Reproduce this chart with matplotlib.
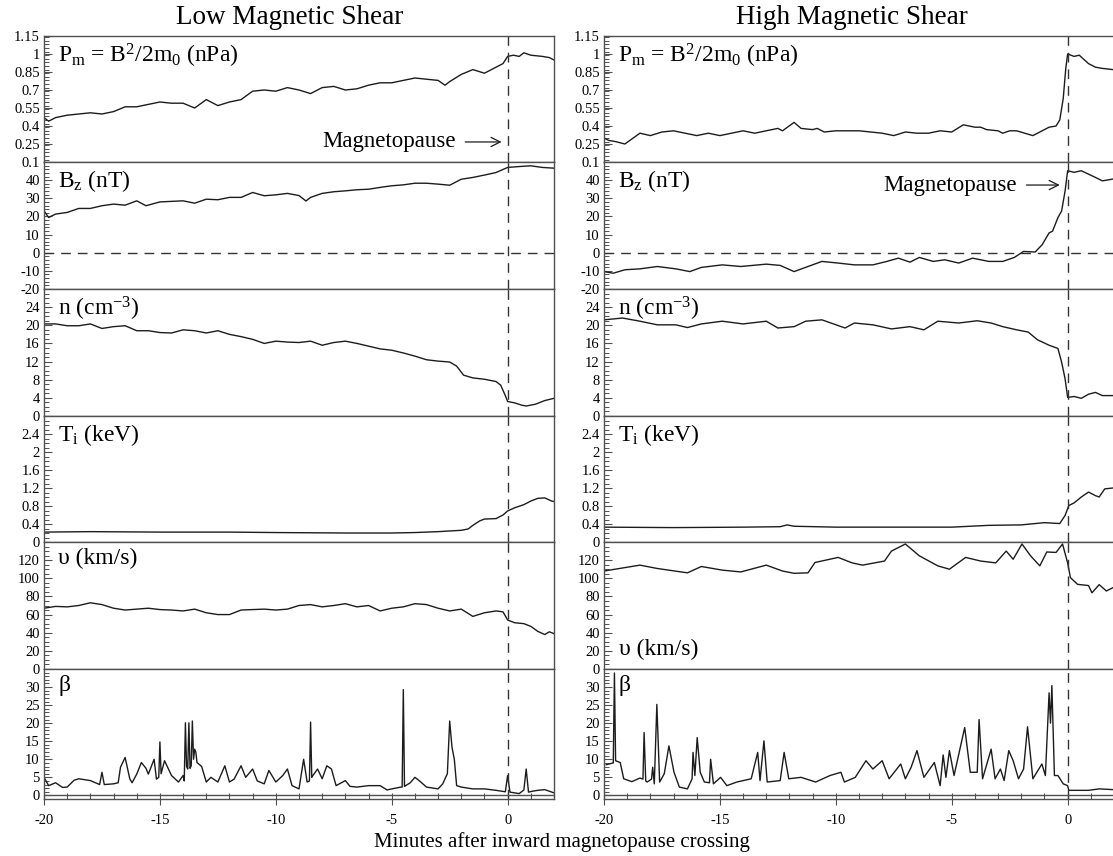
import numpy as np
import matplotlib
matplotlib.use('Agg')
import matplotlib.pyplot as plt
from matplotlib.ticker import MultipleLocator

plt.rcParams['font.family'] = ['Liberation Serif', 'DejaVu Serif']
plt.rcParams['mathtext.fontset'] = 'custom'
plt.rcParams['mathtext.rm'] = 'Liberation Serif'
plt.rcParams['mathtext.it'] = 'Liberation Serif:italic'
plt.rcParams['mathtext.bf'] = 'Liberation Serif:bold'

# ---------------- low magnetic shear (left column) ----------------
tP_L = [-20, -19.8, -19.5, -19, -18.5, -18, -17.5, -17, -16.5, -16,
        -15.5, -15, -14.5, -14, -13.5, -13, -12.5, -12, -11.5, -11,
        -10.5, -10, -9.5, -9, -8.5, -8, -7.5, -7, -6.5, -6,
        -5.5, -5, -4.5, -4, -3.5, -3, -2.7, -2.5, -2, -1.5,
        -1, -0.5, -0.2, 0, 0.25, 0.5, 0.7, 1, 1.5, 1.8, 2]
P_L = [0.47, 0.44, 0.47, 0.49, 0.50, 0.51, 0.50, 0.52, 0.56, 0.56,
       0.58, 0.60, 0.59, 0.59, 0.55, 0.62, 0.57, 0.60, 0.62, 0.69,
       0.70, 0.69, 0.72, 0.70, 0.67, 0.72, 0.73, 0.70, 0.71, 0.74,
       0.76, 0.76, 0.78, 0.80, 0.79, 0.78, 0.74, 0.77, 0.83, 0.87,
       0.84, 0.89, 0.92, 0.98, 0.99, 0.98, 1.01, 0.99, 0.98, 0.97, 0.95]

tBz_L = [-20, -19.8, -19.5, -19, -18.5, -18, -17.5, -17, -16.5, -16,
         -15.6, -15, -14.5, -14, -13.5, -13, -12.5, -12, -11.5, -11,
         -10.5, -10, -9.5, -9, -8.7, -8.5, -8, -7.5, -7, -6.5,
         -6, -5.5, -5, -4.5, -4, -3.5, -3, -2.5, -2, -1.5,
         -1, -0.5, 0, 0.5, 1, 1.5, 2]
Bz_L = [23.1, 19.4, 21.3, 22.2, 24.4, 24.4, 25.9, 26.8, 26.2, 28.6,
        25.9, 28.0, 28.3, 28.6, 27.3, 29.5, 29.2, 30.5, 30.5, 33.2,
        31.4, 31.9, 32.7, 31.5, 28.5, 30.5, 32.7, 33.6, 34.1, 34.7,
        35.0, 36.0, 36.9, 37.4, 38.3, 38.3, 37.8, 37.2, 40.5, 41.5,
        42.8, 44.2, 47.0, 47.5, 47.9, 47.0, 46.6]

tn_L = [-20, -19.5, -19, -18.5, -18, -17.5, -17, -16.5, -16, -15.5,
        -15, -14.5, -14, -13.5, -13, -12.5, -12, -11.5, -11, -10.5,
        -10, -9.5, -9, -8.5, -8, -7.5, -7, -6.5, -6, -5.5,
        -5, -4.5, -4, -3.5, -3, -2.5, -2.2, -1.9, -1.5, -1,
        -0.5, -0.3, -0.1, 0, 0.3, 0.6, 0.8, 1.2, 1.6, 2]
n_L = [20.3, 20.3, 19.9, 19.9, 20.3, 19.3, 19.7, 19.9, 18.8, 18.8,
       18.4, 18.3, 19.0, 18.8, 18.3, 18.8, 18.0, 17.5, 16.9, 16.0,
       16.5, 16.3, 16.2, 16.5, 15.6, 16.2, 16.5, 16.0, 15.4, 14.8,
       14.5, 13.9, 13.2, 12.4, 12.1, 11.9, 11.0, 9.0, 8.4, 8.1,
       7.6, 6.8, 4.5, 3.2, 2.9, 2.4, 2.2, 2.6, 3.4, 3.9]

tT_L = [-20, -18, -15, -12, -10, -7, -5, -4, -3, -2,
        -1.7, -1.5, -1.2, -1, -0.5, -0.2, 0, 0.3, 0.7, 1,
        1.3, 1.6, 1.9, 2]
T_L = [0.22, 0.23, 0.22, 0.22, 0.21, 0.20, 0.20, 0.21, 0.23, 0.26,
       0.29, 0.37, 0.47, 0.51, 0.52, 0.60, 0.69, 0.76, 0.83, 0.91,
       0.97, 0.98, 0.91, 0.90]

tv_L = [-20, -19.5, -19, -18.5, -18, -17.5, -17, -16.5, -16, -15.5,
        -15, -14.5, -14, -13.5, -13, -12.5, -12, -11.5, -11, -10.5,
        -10, -9.5, -9, -8.5, -8, -7.5, -7, -6.5, -6, -5.5,
        -5, -4.5, -4, -3.5, -3, -2.5, -2, -1.5, -1, -0.5,
        -0.2, 0, 0.3, 0.7, 1, 1.3, 1.6, 1.8, 2]
v_L = [67, 69, 68.5, 70, 73, 71, 67, 65, 66, 67,
       65.5, 65, 64, 66, 62, 60, 60, 65, 65.5, 66,
       65, 66, 70, 71, 68.5, 70, 72, 68.5, 70, 64,
       67, 68.5, 72, 71, 67, 64, 66, 58, 62, 64,
       63, 54, 51, 50, 47, 41.5, 38, 41, 39]

tb_L = [-20, -19.8, -19.5, -19.2, -19, -18.7, -18.5, -18, -17.6, -17.5,
        -17.4, -17, -16.8, -16.7, -16.5, -16.3, -16.2, -16, -15.8, -15.6,
        -15.5, -15.25, -15.15, -15.05, -15, -14.95, -14.8, -14.5, -14.2, -14,
        -13.95, -13.9, -13.85, -13.8, -13.75, -13.7, -13.65, -13.6, -13.55, -13.5,
        -13.45, -13.4, -13.2, -13, -12.8, -12.5, -12.2, -12, -11.8, -11.5,
        -11.3, -11, -10.8, -10.5, -10.3, -10, -9.7, -9.5, -9.3, -9,
        -8.8, -8.65, -8.55, -8.5, -8.45, -8.4, -8.2, -8, -7.8, -7.6,
        -7.4, -7, -6.8, -6.5, -6, -5.5, -5.2, -5, -4.6, -4.55,
        -4.5, -4.45, -4.4, -4.2, -4, -3.8, -3.5, -3, -2.8, -2.6,
        -2.5, -2.4, -2.3, -2.2, -2, -1.5, -1, -0.5, -0.1, 0,
        0.1, 0.5, 0.7, 0.8, 0.9, 1.1, 1.3, 1.6, 2]
b_L = [5, 2.7, 3.5, 2.2, 2.3, 4.2, 4.6, 4.1, 3.0, 6.4,
       3.0, 3.2, 3.5, 7.8, 10.5, 4.6, 3.5, 5.9, 9.1, 7.5,
       5.9, 10, 4.5, 5, 14.8, 6, 9.6, 5.5, 3.7, 5.5,
       4, 20.1, 8, 7.3, 20.1, 7.5, 8.2, 20.6, 10, 12.8,
       12, 9.1, 8, 3.7, 5, 3.7, 8.2, 3.7, 4.5, 8.2,
       5, 7.3, 4, 3.2, 6.9, 3.7, 5.5, 7.3, 2.7, 1.8,
       10, 3.7, 4, 20.3, 5, 5.5, 7.3, 4.6, 8.2, 7.3,
       2.7, 4.1, 2.5, 2.3, 2.7, 2.7, 1.5, 1.8, 2.3, 2.3,
       29.3, 2.5, 2.7, 3.5, 5, 4, 2.3, 1.8, 3.2, 6,
       20.6, 13.3, 10, 2.7, 2.3, 1.8, 1.8, 1.4, 1.0, 5.5,
       0.9, 0.5, 1.5, 7.3, 0.9, 1.2, 1.4, 1.6, 0.7]

# ---------------- high magnetic shear (right column) ----------------
tP_R = [-20, -19.8, -19.5, -19.1, -18.45, -18, -17.5, -17, -16.5, -16,
        -15.5, -15, -14.5, -14, -13.5, -13, -12.5, -12.3, -11.8, -11.5,
        -11, -10.8, -10.5, -10, -9.5, -9, -8.5, -8, -7.5, -7,
        -6.5, -6, -5.5, -5, -4.5, -4, -3.75, -3.5, -3, -2.8,
        -2.5, -2.2, -1.5, -1, -0.8, -0.5, -0.34, -0.19, -0.08, 0,
        0.28, 0.5, 0.9, 1.2, 1.5, 1.95]
P_R = [0.30, 0.28, 0.27, 0.25, 0.34, 0.32, 0.35, 0.36, 0.34, 0.32,
       0.34, 0.32, 0.34, 0.36, 0.34, 0.36, 0.38, 0.36, 0.43, 0.38,
       0.37, 0.38, 0.35, 0.36, 0.36, 0.36, 0.35, 0.34, 0.32, 0.35,
       0.34, 0.34, 0.36, 0.35, 0.41, 0.39, 0.39, 0.37, 0.36, 0.34,
       0.36, 0.36, 0.32, 0.37, 0.39, 0.40, 0.45, 0.63, 0.88, 1.00,
       0.98, 0.99, 0.92, 0.89, 0.88, 0.87]

tBz_R = [-20, -19.6, -19.1, -18.45, -17.7, -16.9, -16.3, -15.8, -14.9, -14.1,
         -13.0, -12.4, -11.8, -11.2, -10.6, -9.9, -9.2, -8.4, -7.8, -7.3,
         -6.8, -6.4, -5.8, -5.3, -4.7, -4.1, -3.4, -2.8, -2.3, -1.9,
         -1.4, -1.1, -0.8, -0.65, -0.42, -0.26, -0.11, 0, 0.28, 0.59,
         0.9, 1.2, 1.5, 1.95]
Bz_R = [-10.4, -11.3, -9.4, -8.9, -7.6, -8.9, -10.4, -8.1, -6.7, -7.6,
        -6.3, -7.0, -10.4, -7.6, -4.8, -5.7, -6.7, -6.7, -4.8, -3.0,
        -5.2, -2.6, -4.8, -3.9, -5.7, -3.0, -4.8, -4.8, -2.6, 0.7,
        0.4, 4.4, 10.9, 11.9, 19.3, 23.0, 34.0, 45.2, 44.3, 45.2,
        43.3, 41.5, 39.6, 40.6]

tn_R = [-20, -19.2, -18.45, -17.7, -16.9, -16.4, -15.8, -14.9, -14.0, -13.0,
        -12.5, -11.8, -11.3, -10.6, -9.6, -9.2, -8.4, -7.6, -6.8, -6.2,
        -5.6, -4.7, -3.9, -3.3, -2.8, -2.2, -1.7, -1.3, -0.8, -0.42,
        -0.26, -0.11, 0, 0.28, 0.59, 0.9, 1.2, 1.5, 1.95]
n_R = [21.2, 21.6, 20.9, 20.1, 20.1, 19.5, 20.3, 20.9, 20.3, 20.9,
       19.4, 19.7, 20.9, 21.2, 19.4, 20.5, 20.1, 19.2, 19.7, 19.0,
       20.9, 20.5, 21.0, 20.5, 19.7, 19.0, 18.5, 16.8, 15.6, 14.9,
       11.9, 8.2, 4.1, 4.3, 3.9, 4.8, 5.2, 4.5, 4.5]

tT_R = [-20, -17, -14, -12.4, -12.1, -11.8, -10, -7, -5, -3.4,
        -2, -1.0, -0.34, -0.11, 0.05, 0.28, 0.59, 0.9, 1.2, 1.36,
        1.6, 1.95]
T_R = [0.33, 0.32, 0.33, 0.34, 0.38, 0.35, 0.33, 0.33, 0.33, 0.37,
       0.38, 0.43, 0.41, 0.59, 0.81, 0.87, 1.00, 1.11, 1.03, 1.00,
       1.18, 1.20]

tv_R = [-20, -18.45, -17.7, -16.4, -15.8, -14.9, -14.1, -13.0, -12.3, -11.8,
        -11.2, -10.9, -9.9, -9.3, -8.85, -7.9, -7.6, -7.0, -6.4, -5.6,
        -5.1, -4.4, -3.75, -3.1, -2.65, -2.35, -1.97, -1.6, -1.2, -0.9,
        -0.5, -0.22, 0, 0.12, 0.43, 0.9, 1.05, 1.36, 1.67, 1.95]
v_R = [108, 114.5, 110.8, 106, 113, 109, 107, 114.5, 108, 105.5,
       106, 117.4, 123, 117, 114.5, 119, 130, 137.8, 124.8, 113.7,
       110, 123, 119, 117, 130, 121, 137.8, 124.8, 113.7, 129,
       128.5, 137.8, 117, 100.7, 93.3, 92, 84, 93, 86, 89.6]

tb_R = [-19.9, -19.6, -19.55, -19.5, -19.3, -19.15, -18.8, -18.45, -18.32, -18.27,
        -18.2, -18.14, -17.95, -17.9, -17.83, -17.72, -17.6, -17.4, -17.2, -16.98,
        -16.75, -16.4, -16.2, -16.16, -16.08, -15.98, -15.85, -15.67, -15.45, -15.4,
        -15.28, -14.97, -14.7, -14.27, -13.65, -13.37, -13.27, -13.1, -12.96, -12.4,
        -12.23, -12.03, -11.5, -10.87, -10.25, -9.78, -9.63, -9.16, -8.7, -8.4,
        -8.0, -7.7, -7.2, -7.0, -6.75, -6.5, -6.2, -5.75, -5.5, -5.37,
        -5.25, -5.1, -4.9, -4.44, -4.2, -3.9, -3.82, -3.67, -3.3, -3.13,
        -2.9, -2.74, -2.54, -2.35, -2.12, -1.9, -1.73, -1.5, -1.11, -0.96,
        -0.8, -0.74, -0.68, -0.57, -0.42, -0.19, 0, 0.05, 0.9, 1.36,
        1.95]
b_R = [8.5, 9, 33.9, 9.6, 9.1, 4.6, 3.8, 4.8, 4.5, 17.4,
       4, 3.7, 4.5, 7.8, 3.2, 25.2, 3.7, 6, 13.7, 6.4,
       2.3, 1.8, 4.6, 11.9, 5.5, 16, 6.4, 3.7, 3.5, 10,
       3.2, 5, 2.7, 3.7, 4.6, 11.9, 4.1, 15.1, 3.7, 4.1,
       11.9, 4.6, 5, 3.7, 5.5, 6.4, 3.7, 5, 9.6, 7.3,
       9.6, 4.6, 8.7, 4.6, 7.8, 12.4, 5, 9.1, 2.7, 11.2,
       5, 12.4, 5.5, 18.8, 6.4, 6.4, 21, 4.6, 12.8, 4.6,
       7.3, 4.1, 12.4, 9.6, 4.6, 7.3, 19, 4.6, 8.7, 5.5,
       28.4, 20, 30.4, 5.5, 5.5, 3.2, 2.7, 1.4, 1.4, 1.8,
       1.6]

series_L = [(tP_L, P_L), (tBz_L, Bz_L), (tn_L, n_L), (tT_L, T_L), (tv_L, v_L), (tb_L, b_L)]
series_R = [(tP_R, P_R), (tBz_R, Bz_R), (tn_R, n_R), (tT_R, T_R), (tv_R, v_R), (tb_R, b_R)]

panel_labels = [r'P$_\mathrm{m}$ = B$^\mathrm{2}$/2m$_\mathrm{0}$ (nPa)',
                r'B$_\mathrm{z}$ (nT)',
                r'n (cm$^\mathrm{-3}$)',
                r'T$_\mathrm{i}$ (keV)',
                'υ (km/s)',
                'β']
ylims = [(0.1, 1.15), (-20, 50), (0, 28), (0, 2.8), (0, 140), (-1, 35)]
yticks = [[0.1, 0.25, 0.4, 0.55, 0.7, 0.85, 1.0, 1.15],
          [-20, -10, 0, 10, 20, 30, 40],
          [0, 4, 8, 12, 16, 20, 24],
          [0, 0.4, 0.8, 1.2, 1.6, 2.0, 2.4],
          [0, 20, 40, 60, 80, 100, 120],
          [0, 5, 10, 15, 20, 25, 30]]
ytick_labels = [['0.1', '0.25', '0.4', '0.55', '0.7', '0.85', '1', '1.15'],
                ['-20', '-10', '0', '10', '20', '30', '40'],
                ['0', '4', '8', '12', '16', '20', '24'],
                ['0', '0.4', '0.8', '1.2', '1.6', '2', '2.4'],
                ['0', '20', '40', '60', '80', '100', '120'],
                ['0', '5', '10', '15', '20', '25', '30']]
yminor = [0.03, 2, 1, 0.1, 5, 1]
xticks = [-20, -15, -10, -5, 0]

W, H = 1113.0, 856.0
rows = [36, 162, 289, 416, 542, 669, 799]
cols = [44, 604]
col_w = 510

fig = plt.figure(figsize=(W / 100, H / 100), dpi=100)
ink = '#1c1c1c'
spine_c = '#505050'

for c, series in enumerate([series_L, series_R]):
    for r in range(6):
        top, bot = rows[r], rows[r + 1]
        ax = fig.add_axes([cols[c] / W, 1 - bot / H, col_w / W, (bot - top) / H])
        t, y = series[r]
        ax.plot(t, y, color=ink, lw=1.0)
        ax.set_xlim(-20, 2)
        ax.set_ylim(*ylims[r])
        ax.set_yticks(yticks[r], ytick_labels[r])
        ax.yaxis.set_minor_locator(MultipleLocator(yminor[r]))
        ax.tick_params(axis='y', which='major', direction='in', length=6,
                       width=0.8, color=spine_c, labelsize=10.5, pad=3)
        ax.tick_params(axis='y', which='minor', direction='in', length=3.5,
                       width=0.7, color=spine_c)
        ax.axvline(0, color='#333333', lw=1.0, ls=(0, (7, 5)))
        if r == 1:
            ax.axhline(0, color='#333333', lw=1.0, ls=(0, (7, 5)))
        for s in ax.spines.values():
            s.set_color(spine_c)
            s.set_linewidth(1.0)
        if r == 5:
            ax.axhline(0, color=spine_c, lw=1.0)
            ax.set_xticks(xticks, [str(v) for v in xticks])
            ax.xaxis.set_minor_locator(MultipleLocator(1))
            ax.tick_params(axis='x', which='major', direction='inout', length=9,
                           width=0.8, color=spine_c, labelsize=10.5, pad=6)
            ax.tick_params(axis='x', which='minor', direction='in', length=4,
                           width=0.8, color=spine_c)
        else:
            ax.tick_params(axis='x', which='both', bottom=False, labelbottom=False)
        if c == 1 and r == 4:
            ax.text(0.03, 0.15, panel_labels[r], transform=ax.transAxes,
                    fontsize=17, va='center', ha='left')
        else:
            ax.text(0.028, 0.95, panel_labels[r], transform=ax.transAxes,
                    fontsize=17, va='top', ha='left')
        if c == 0 and r == 0:
            ax.annotate('Magnetopause', xy=(-0.26, 0.267), xytext=(-2.25, 0.267),
                        fontsize=16.5, ha='right', va='center',
                        arrowprops=dict(arrowstyle='->', lw=0.9, color=ink,
                                        relpos=(1, 0.5), shrinkA=5, shrinkB=0))
        if c == 1 and r == 1:
            ax.annotate('Magnetopause', xy=(-0.34, 37.3), xytext=(-2.2, 37.3),
                        fontsize=16.5, ha='right', va='center',
                        arrowprops=dict(arrowstyle='->', lw=0.9, color=ink,
                                        relpos=(1, 0.5), shrinkA=5, shrinkB=0))

fig.text(290 / W, 1 - 18 / H, 'Low Magnetic Shear', fontsize=19.5, ha='center', va='center')
fig.text(852 / W, 1 - 18 / H, 'High Magnetic Shear', fontsize=19.5, ha='center', va='center')
fig.text(562 / W, 1 - 842 / H, 'Minutes after inward magnetopause crossing',
         fontsize=15, ha='center', va='center')

fig.savefig('out.png', dpi=100)
